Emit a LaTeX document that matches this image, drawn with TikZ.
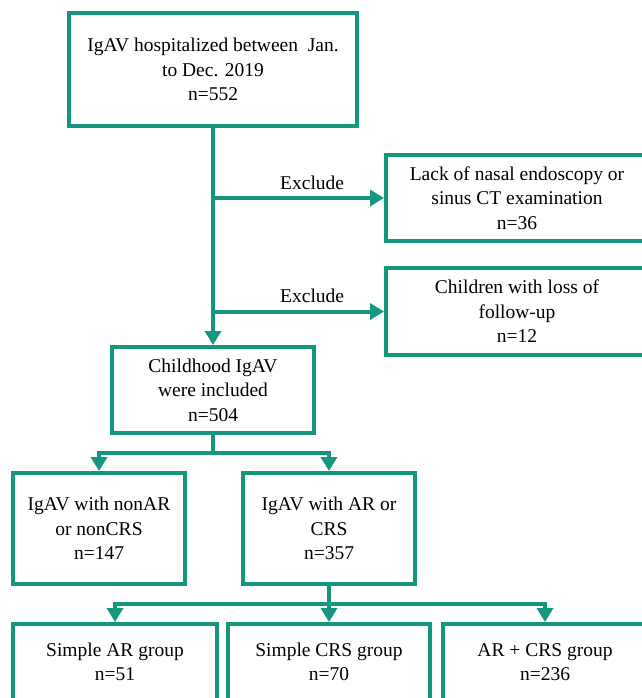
\documentclass[tikz,border=0pt]{standalone}
\usepackage{fontspec}
\setmainfont{Liberation Serif}
\usetikzlibrary{arrows.meta}
\definecolor{teal1}{RGB}{21,150,126}
\tikzset{
	box/.style={draw=teal1,line width=4pt,rectangle,align=center,
		inner sep=0pt,font=\fontsize{19.5}{24.5}\selectfont},
	arr/.style={-{Triangle[length=14pt,width=16pt]}},
}
\begin{document}
\begin{tikzpicture}[x=1pt,y=-1pt,line width=4pt,draw=teal1]
	\useasboundingbox (0,0) rectangle (641,698);

	\node[box,minimum width=288pt,minimum height=113pt] (ALL) at (213,69.5) {IgAV hospitalized between\ \ Jan.\\to Dec. 2019\\n=552};
	\node[box,minimum width=262pt,minimum height=86pt] (LACK) at (517,198) {Lack of nasal endoscopy or\\sinus CT examination\\n=36};
	\node[box,minimum width=262pt,minimum height=87pt] (LOSS) at (517,311.5) {Children with loss of\\follow-up\\n=12};
	\node[box,minimum width=202pt,minimum height=86pt] (INC) at (213,390) {Childhood IgAV\\were included\\n=504};
	\node[box,minimum width=172pt,minimum height=111pt] (NON) at (99,528.5) {IgAV with nonAR\\or nonCRS\\n=147};
	\node[box,minimum width=172pt,minimum height=111pt] (ARC) at (329,528.5) {IgAV with AR or\\CRS\\n=357};
	\node[box,minimum width=204pt,minimum height=76pt] (SAR) at (115,662) {Simple AR group\\n=51};
	\node[box,minimum width=202pt,minimum height=76pt] (SCRS) at (329,662) {Simple CRS group\\n=70};
	\node[box,minimum width=204pt,minimum height=76pt] (BOTH) at (545,662) {AR + CRS group\\n=236};

	\coordinate (S1) at (213,453);
	\coordinate (S2) at (329,604);

	\draw[teal1,arr](ALL)--(INC);
	\draw[teal1,arr](ALL.south |- LACK)-- node[pos=0.58,above=3pt,text=black,font=\fontsize{19.5}{24}\selectfont](EX1){Exclude} (LACK);
	\draw[teal1,arr](ALL.south |- LOSS)-- node[pos=0.58,above=3pt,text=black,font=\fontsize{19.5}{24}\selectfont](EX2){Exclude} (LOSS);

	\draw[teal1](INC)--(S1);
	\draw[teal1,arr](S1)-|(NON);
	\draw[teal1,arr](S1)-|(ARC);

	\draw[teal1](ARC)--(S2);
	\draw[teal1,arr](S2)-|(SAR);
	\draw[teal1,arr](S2)--(SCRS);
	\draw[teal1,arr](S2)-|(BOTH);
\end{tikzpicture}
\end{document}
